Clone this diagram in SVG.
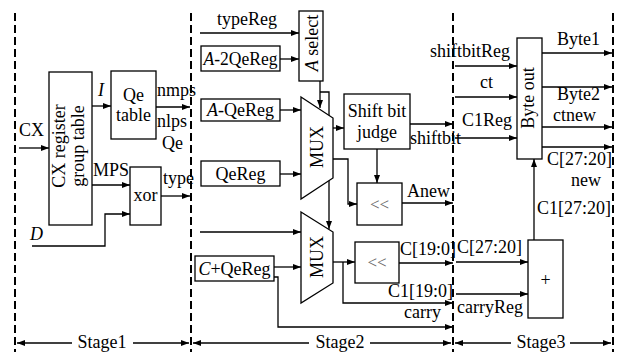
<svg xmlns="http://www.w3.org/2000/svg" width="622" height="352" viewBox="0 0 622 352">
<style>
text{font-family:"Liberation Serif","Times New Roman",serif;font-size:18px;fill:#000}
.it{font-style:italic}
.c{text-anchor:middle}
.box{fill:#fff;stroke:#000;stroke-width:1.3}
.w{fill:none;stroke:#000;stroke-width:1.3}
.a{marker-end:url(#ah)}
.dash{fill:none;stroke:#000;stroke-width:2;stroke-dasharray:8 4}
.sh{fill:#666;font-size:17px}
</style>
<defs>
<marker id="ah" markerUnits="userSpaceOnUse" markerWidth="9" markerHeight="7" refX="8" refY="3" orient="auto-start-reverse">
<path d="M0,0 L8,3 L0,6 z" fill="#000"/>
</marker>
</defs>
<rect width="622" height="352" fill="#fff"/>
<g id="stages">
<path class="dash" d="M15,13 V352 M191,13 V352 M453,13 V352 M613,13 V352"/>
</g>
<g id="connectors">
<path class="w a" d="M19,148 H49"/>
<path class="w a" d="M92,106 H111"/>
<path class="w a" d="M156,107 H190"/>
<path class="w a" d="M92,185 H130"/>
<path class="w a" d="M32,246 H105 V214 H130"/>
<path class="w a" d="M161,196 H190"/>
<path class="w a" d="M200,33 H299"/>
<path class="w a" d="M280,59 H299"/>
<path class="w a" d="M280,110 H301"/>
<path class="w a" d="M280,174 H301"/>
<path class="w a" d="M320,81 V108"/>
<path class="w a" d="M320,92 H329 V229"/>
<path class="w a" d="M333,128 H344"/>
<path class="w a" d="M333,159 H348 V204 H357"/>
<path class="w a" d="M377,149 V183"/>
<path class="w a" d="M402,203 H453"/>
<path class="w a" d="M410,124 H453"/>
<path class="w a" d="M200,232 H301"/>
<path class="w a" d="M274,267 H301"/>
<path class="w a" d="M333,262 H355"/>
<path class="w a" d="M343,262 V303 H453"/>
<path class="w a" d="M399,263 H453"/>
<path class="w a" d="M274,277 H278 V327 H453"/>
<path class="w a" d="M455,66 H517"/>
<path class="w a" d="M455,97 H517"/>
<path class="w a" d="M455,138 H517"/>
<path class="w a" d="M542,53 H612"/>
<path class="w a" d="M542,87 H612"/>
<path class="w a" d="M542,127 H612"/>
<path class="w a" d="M542,147 H612"/>
<path class="w a" d="M534,240 V159"/>
<path class="w a" d="M456,262 H528"/>
<path class="w a" d="M456,294 H528"/>
<path class="w" style="marker-start:url(#ah)" d="M17,343 H72"/>
<path class="w a" d="M133,343 H189"/>
<path class="w" style="marker-start:url(#ah)" d="M193,343 H309"/>
<path class="w a" d="M370,343 H451"/>
<path class="w" style="marker-start:url(#ah)" d="M455,343 H511"/>
<path class="w a" d="M570,343 H611"/>
</g>
<g id="cx-table">
<rect class="box" x="49" y="72" width="43" height="153"/>
<text class="c" transform="translate(65,146) rotate(-90)">CX  register</text>
<text class="c" transform="translate(84,146) rotate(-90)">group  table</text>
</g>
<g id="qe-table">
<rect class="box" x="111" y="71" width="45" height="68"/>
<text class="c" x="133.5" y="101">Qe</text>
<text class="c" x="133.5" y="121">table</text>
</g>
<g id="xor">
<rect class="box" x="130" y="167" width="31" height="58"/>
<text class="c" x="145.5" y="201">xor</text>
</g>
<g id="a-select">
<rect class="box" x="299" y="11" width="24" height="70"/>
<text class="c" transform="translate(318,43) rotate(-90)"><tspan class="it">A</tspan> select</text>
</g>
<g id="a2qereg">
<rect class="box" x="201" y="46" width="79" height="25"/>
<text class="c" x="240.5" y="65" textLength="74" lengthAdjust="spacingAndGlyphs"><tspan class="it">A</tspan>-2QeReg</text>
</g>
<g id="aqereg">
<rect class="box" x="201" y="99" width="79" height="22"/>
<text class="c" x="240.5" y="116"><tspan class="it">A</tspan>-QeReg</text>
</g>
<g id="qereg">
<rect class="box" x="201" y="161" width="79" height="25"/>
<text class="c" x="240.5" y="180">QeReg</text>
</g>
<g id="cqereg">
<rect class="box" x="195" y="256" width="79" height="25"/>
<text class="c" x="234.5" y="275"><tspan class="it">C</tspan>+QeReg</text>
</g>
<g id="mux1">
<path class="box" d="M301,97 L333,118 L333,178 L301,199 Z"/>
<text class="c" transform="translate(323,147) rotate(-90)">MUX</text>
</g>
<g id="mux2">
<path class="box" d="M301,212 L333,232 L333,283 L301,303 Z"/>
<text class="c" transform="translate(323,257) rotate(-90)">MUX</text>
</g>
<g id="shift-judge">
<rect class="box" x="344" y="94" width="66" height="55"/>
<text class="c" x="377" y="117">Shift bit</text>
<text class="c" x="377" y="138">judge</text>
</g>
<g id="shl1">
<rect class="box" x="357" y="183" width="45" height="42"/>
<text class="c sh" x="379.5" y="210">&lt;&lt;</text>
</g>
<g id="shl2">
<rect class="box" x="355" y="242" width="44" height="41"/>
<text class="c sh" x="377" y="268">&lt;&lt;</text>
</g>
<g id="byte-out">
<rect class="box" x="517" y="38" width="25" height="121"/>
<text class="c" transform="translate(534,98) rotate(-90)">Byte  out</text>
</g>
<g id="adder">
<rect class="box" x="528" y="240" width="35" height="78"/>
<text class="c" x="545.5" y="286">+</text>
</g>
<g id="labels">
<text x="19" y="136">CX</text>
<text class="it" x="98" y="96">I</text>
<text x="157" y="96">nmps</text>
<text x="157" y="127">nlps</text>
<text x="162" y="149">Qe</text>
<text x="93" y="176">MPS</text>
<text x="163" y="184">type</text>
<text class="it" x="30" y="240">D</text>
<text x="217" y="25">typeReg</text>
<text x="407" y="197">Anew</text>
<text x="410" y="144">shiftbit</text>
<text x="400" y="255">C[19:0]</text>
<text x="388" y="297">C1[19:0]</text>
<text x="404" y="318">carry</text>
<text x="430" y="57">shiftbitReg</text>
<text x="480" y="88">ct</text>
<text x="462" y="126">C1Reg</text>
<text x="557" y="45">Byte1</text>
<text x="557" y="100">Byte2</text>
<text x="553" y="121">ctnew</text>
<text x="547" y="165">C[27:20]</text>
<text x="571" y="186">new</text>
<text x="537" y="214">C1[27:20]</text>
<text x="457" y="253">C[27:20]</text>
<text x="457" y="313">carryReg</text>
<text class="c" x="102" y="348">Stage1</text>
<text class="c" x="340" y="348">Stage2</text>
<text class="c" x="541" y="348">Stage3</text>
</g>
</svg>
